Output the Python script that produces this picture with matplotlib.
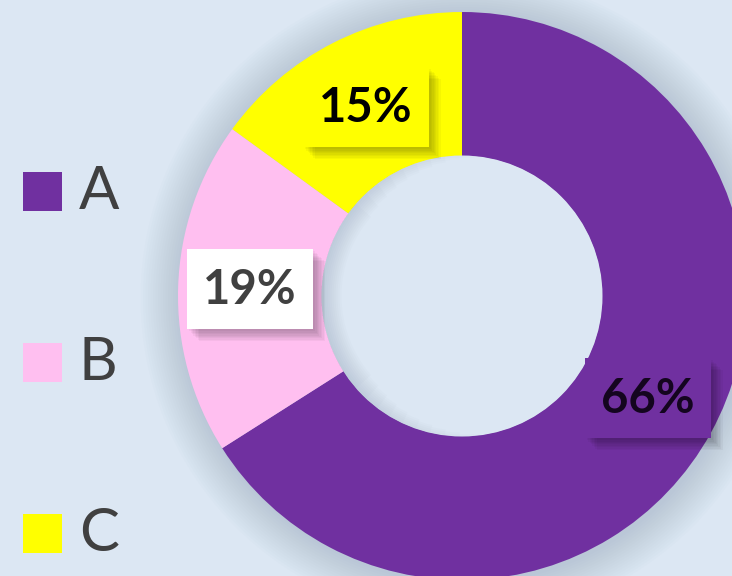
import numpy as np
import matplotlib
matplotlib.use("Agg")
import matplotlib.pyplot as plt
from matplotlib.patches import Rectangle, Circle, Wedge

# data
categories = ["A", "B", "C"]
values = [66, 19, 15]
colors = ["#7030A0", "#FFBFF0", "#FFFF00"]
label_text_colors = ["#14051f", "#404040", "#000000"]
label_box_colors = ["#7030A0", "#FFFFFF", "#FFFF00"]

W, H = 732, 576
bg = "#DCE7F3"

fig = plt.figure(figsize=(W / 100, H / 100), dpi=100)
fig.patch.set_facecolor(bg)
ax = fig.add_axes([0, 0, 1, 1])
ax.set_facecolor(bg)

cx, cy = 462, 280
r_out, r_in = 284, 140

# soft halo / shadow around the ring
for k in range(16):
    ax.add_patch(Circle((cx + 2, cy - 2), r_out + 2 + k * 2.5, fc="#8fa3b8",
                        ec="none", alpha=0.026, zorder=0))

wedges, _ = ax.pie(values, colors=colors, startangle=90, counterclock=False,
                   radius=r_out, center=(cx, cy),
                   wedgeprops=dict(width=r_out - r_in, linewidth=0))
for w in wedges:
    w.set_zorder(2)

# hole: plain background with a faint inner shadow along the left edge
ax.add_patch(Circle((cx, cy), r_in + 0.5, fc=bg, ec="none", zorder=3))
for k in range(10):
    span = 95 - k * 6
    ax.add_patch(Wedge((cx, cy), r_in + 0.5, 180 - span, 180 + span,
                       width=2 + k * 2.0, fc="#7f93a8", ec="none",
                       alpha=0.03, zorder=3))

# percentage labels in boxes with drop shadow
total = sum(values)
r_lab = (r_out + r_in) / 2
bw, bh = 126, 80
for w, v, tc, fc in zip(wedges, values, label_text_colors, label_box_colors):
    ang = np.deg2rad((w.theta1 + w.theta2) / 2)
    x = cx + r_lab * np.cos(ang)
    y = cy + r_lab * np.sin(ang)
    for k in range(8):
        off = 2 + k * 1.4
        ax.add_patch(Rectangle((x - bw / 2 + off, y - bh / 2 - off), bw, bh,
                               fc="#000000", ec="none", alpha=0.035, zorder=4))
    ax.add_patch(Rectangle((x - bw / 2, y - bh / 2), bw, bh, fc=fc, ec="none",
                           zorder=5))
    ax.text(x, y - 1, f"{round(v / total * 100)}%", ha="center", va="center",
            fontsize=34, fontweight="bold", family=["Lato", "DejaVu Sans"],
            color=tc, zorder=6)

# legend
leg_y = [385, 214, 43]
sq = 39
for name, col, ly in zip(categories, colors, leg_y):
    ax.add_patch(Rectangle((23, ly - sq / 2), sq, sq, fc=col, ec="none", zorder=5))
    ax.text(79, ly - 1, name, ha="left", va="center", fontsize=43,
            family=["Lato", "DejaVu Sans"], color="#404040", zorder=6)

ax.set_xlim(0, W)
ax.set_ylim(0, H)
ax.set_aspect("auto")
ax.axis("off")

fig.savefig("out.png", dpi=100, facecolor=bg)
